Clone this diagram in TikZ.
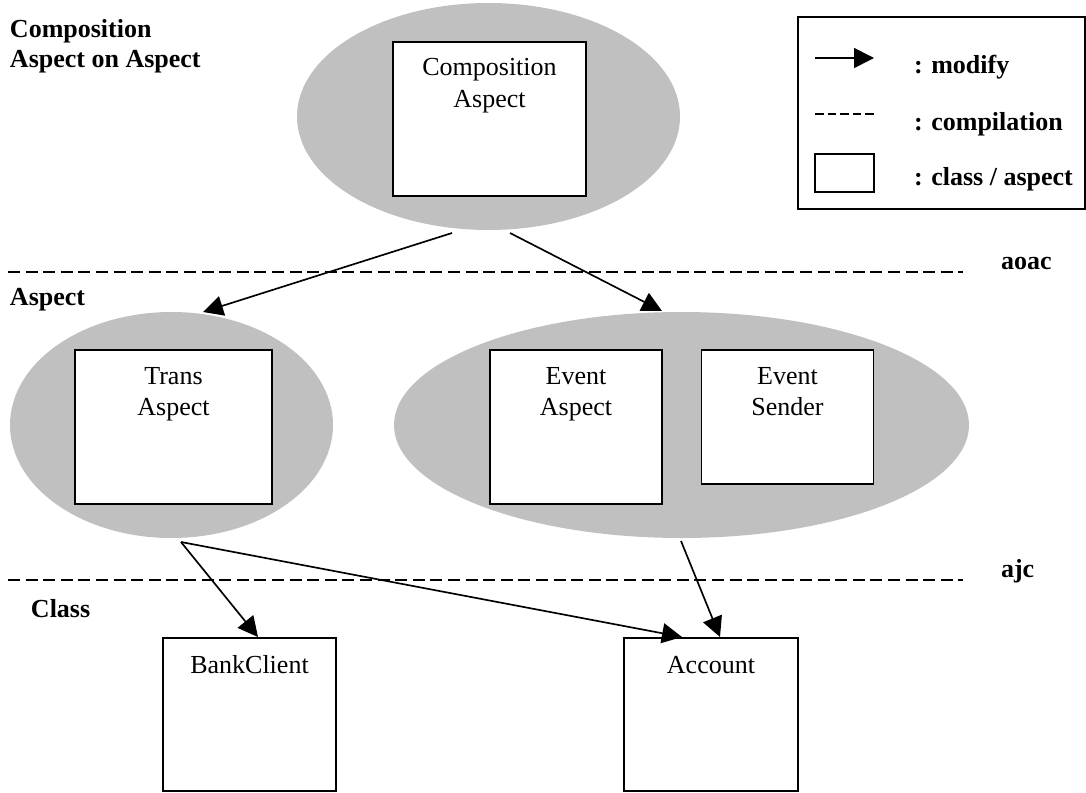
\documentclass[tikz,border=0pt]{standalone}
\usepackage{fontspec}
\setmainfont{Liberation Serif}
\usetikzlibrary{arrows.meta,shapes.geometric}
\definecolor{setgray}{HTML}{C0C0C0}
\begin{document}
\begin{tikzpicture}[x=0.75pt,y=-0.75pt,
  every node/.style={font=\fontsize{19.5}{23}\selectfont, inner sep=0pt, outer sep=0pt},
  aspectset/.style={ellipse, fill=setgray, draw=none},
  unit/.style={rectangle, draw, line width=1.3pt, fill=white},
  caption/.style={anchor=base},
  heading/.style={anchor=base west, font=\fontsize{19.5}{23}\selectfont\bfseries},
  modify/.style={line width=1.25pt, -{Triangle[length=15pt,width=15pt]}},
  compile/.style={line width=1.4pt, dash pattern=on 9pt off 4.2pt},
]
\useasboundingbox (0,0) rectangle (1086,793);

% aspect groups
\node[aspectset, minimum width=287.25pt, minimum height=170.25pt] (topset) at (488.5,116.5) {};
\node[aspectset, minimum width=242.25pt, minimum height=169.5pt] (transset) at (171.5,425) {};
\node[aspectset, minimum width=431.25pt, minimum height=169.5pt] (eventset) at (681.5,425) {};

% classes and aspects
\node[unit, minimum width=144.75pt, minimum height=115.5pt] (ca) at (489.5,119) {};
\node[caption] (ca1) at (489.5,75) {Composition};
\node[caption] (ca2) at (489.5,107) {Aspect};

\node[unit, minimum width=147.75pt, minimum height=115.5pt] (ta) at (173.5,427) {};
\node[caption] (ta1) at (173.5,384) {Trans};
\node[caption] (ta2) at (173.5,415) {Aspect};

\node[unit, minimum width=129pt, minimum height=115.5pt] (ea) at (576,427) {};
\node[caption] (ea1) at (576,384) {Event};
\node[caption] (ea2) at (576,415) {Aspect};

\node[unit, minimum width=129pt, minimum height=100.5pt] (es) at (787.5,417) {};
\node[caption] (es1) at (787.5,384) {Event};
\node[caption] (es2) at (787.5,415) {Sender};

\node[unit, minimum width=129.75pt, minimum height=114.75pt] (bc) at (249.5,714.5) {};
\node[caption] (bc1) at (249.5,673) {BankClient};

\node[unit, minimum width=130.5pt, minimum height=114.75pt] (ac) at (711,714.5) {};
\node[caption] (ac1) at (711,673) {Account};

% level headings
\node[heading] (h1) at (10,37) {Composition};
\node[heading] (h2) at (10,67) {Aspect on Aspect};
\node[heading] (h3) at (10,305) {Aspect};
\node[heading] (h4) at (31,617) {Class};
\node[heading] (h5) at (1001,269) {aoac};
\node[heading] (h6) at (1001,577) {ajc};

% compilation boundaries
\coordinate (l1a) at (8,272);  \coordinate (l1b) at (963,272);
\coordinate (l2a) at (8,580);  \coordinate (l2b) at (963,580);
\draw[compile] (l1a) -- (l1b);
\draw[compile] (l2a) -- (l2b);

% modify relations
\coordinate (s1) at (452,233);  \coordinate (e1) at (203,312);
\coordinate (s2) at (510,233);  \coordinate (e2) at (662,311);
\coordinate (s3) at (181,542);  \coordinate (e3) at (258,637);
\coordinate (e4) at (682,637);
\coordinate (s5) at (681,541);  \coordinate (e5) at (720,637);
\draw[modify] (s1) -- (e1);
\draw[modify] (s2) -- (e2);
\draw[modify] (s3) -- (e3);
\draw[modify] (s3) -- (e4);
\draw[modify] (s5) -- (e5);

% legend
\node[unit, minimum width=215.25pt, minimum height=144pt] (legend) at (941.5,113) {};
\coordinate (la) at (815,58);  \coordinate (lb) at (874,58);
\draw[modify] (la) -- (lb);
\coordinate (lc) at (815,114); \coordinate (ld) at (874,114);
\draw[line width=1.3pt, dash pattern=on 6.4pt off 3pt] (lc) -- (ld);
\node[unit, minimum width=44.25pt, minimum height=28.5pt] (lbox) at (844.5,173) {};
\node[heading] (t1) at (914,73) {: modify};
\node[heading] (t2) at (914,130) {: compilation};
\node[heading] (t3) at (914,185) {: class / aspect};
\end{tikzpicture}
\end{document}
